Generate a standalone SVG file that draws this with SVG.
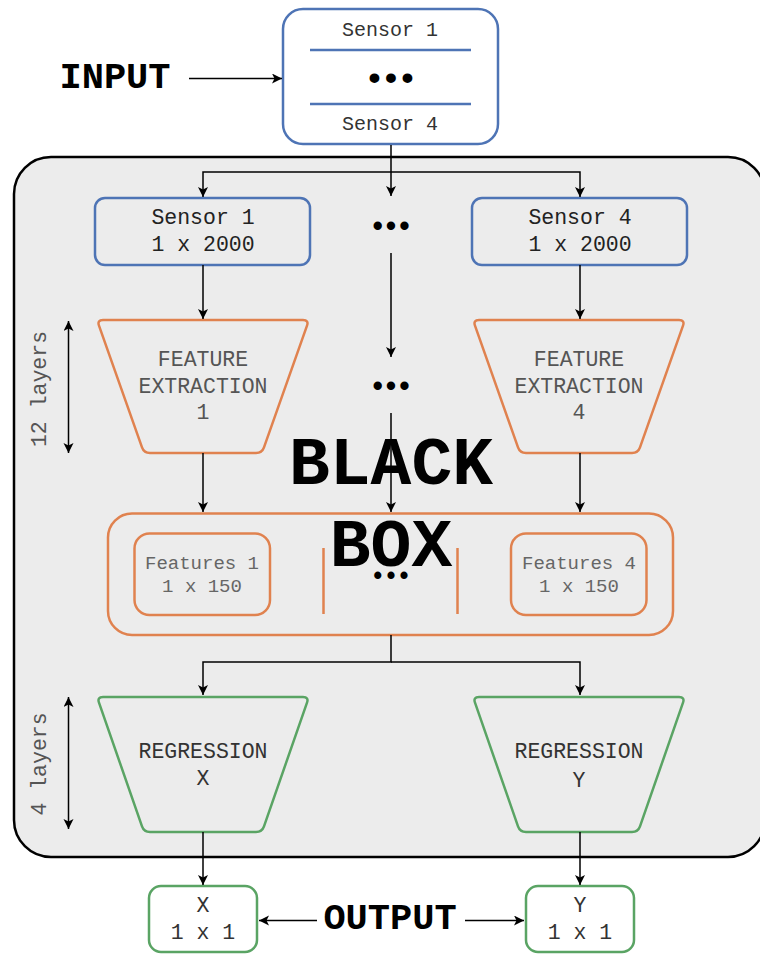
<svg xmlns="http://www.w3.org/2000/svg" width="760" height="954" viewBox="0 0 760 954">
<style>
text{font-family:"Liberation Mono","Courier New",monospace;text-anchor:middle}
.t{font-size:21.5px}
.big{font-size:37px;font-weight:bold;fill:#000}
.bb{font-size:68px;font-weight:bold;fill:#000}
.dots{font-weight:bold;fill:#000}
.blue{fill:#fff;stroke:#4e74b5;stroke-width:2.5}
.blueT{fill:none;stroke:#4e74b5;stroke-width:2.5}
.or{fill:none;stroke:#e0824f;stroke-width:2.5}
.gr{fill:none;stroke:#5aa464;stroke-width:2.5}
.grw{fill:#fff;stroke:#5aa464;stroke-width:2.5}
.c{fill:none;stroke:#000;stroke-width:1.5}
.ca{fill:none;stroke:#000;stroke-width:1.5;marker-end:url(#ah)}
.cd{fill:none;stroke:#000;stroke-width:1.5;marker-end:url(#ah);marker-start:url(#ah)}
</style>
<defs>
<marker id="ah" markerUnits="userSpaceOnUse" markerWidth="12" markerHeight="12" viewBox="0 0 12 12" refX="10" refY="5" orient="auto-start-reverse">
<path d="M0,0 L10,5 L0,10 L2.5,5 Z" fill="#000"/>
</marker>
</defs>

<g id="blackbox">
<rect x="14" y="157" width="751" height="700" rx="37" fill="#ececec" stroke="#000" stroke-width="2.5"/>
</g>

<g id="input-label"><text class="big" x="115" y="88">INPUT</text></g>

<g id="input">
<rect class="blue" x="283" y="9" width="215" height="135" rx="20"/>
<line x1="310" y1="50" x2="471" y2="50" class="blueT"/>
<line x1="310" y1="104" x2="471" y2="104" class="blueT"/>
<text class="t" x="390" y="36" style="font-size:20px;fill:#333">Sensor 1</text>
<text class="dots" x="389" y="89" style="font-size:34px;letter-spacing:-3.9px">•••</text>
<text class="t" x="390" y="130" style="font-size:20px;fill:#333">Sensor 4</text>
</g>

<g id="sensor1">
<rect class="blueT" x="95" y="198" width="215" height="67" rx="10"/>
<text class="t" x="203" y="224" fill="#222">Sensor 1</text>
<text class="t" x="203" y="251" fill="#222">1 x 2000</text>
</g>
<g id="sensor4">
<rect class="blueT" x="472" y="198" width="215" height="67" rx="10"/>
<text class="t" x="580" y="224" fill="#222">Sensor 4</text>
<text class="t" x="580" y="251" fill="#222">1 x 2000</text>
</g>
<g id="dots-sensors"><text class="dots" x="389" y="235.6" style="font-size:29px;letter-spacing:-4px">•••</text></g>

<g id="fe1">
<path class="or" transform="translate(97,320)" d="M6,0 L206,0 Q212,0 210.01,5.66 L166.99,127.34 Q165,133 159,133 L53,133 Q47,133 45.01,127.34 L1.99,5.66 Q0,0 6,0 Z"/>
<text class="t" x="203" y="366" fill="#555">FEATURE</text>
<text class="t" x="203" y="392.5" fill="#555">EXTRACTION</text>
<text class="t" x="203" y="419" fill="#555">1</text>
</g>
<g id="fe4">
<path class="or" transform="translate(473,320)" d="M6,0 L206,0 Q212,0 210.01,5.66 L166.99,127.34 Q165,133 159,133 L53,133 Q47,133 45.01,127.34 L1.99,5.66 Q0,0 6,0 Z"/>
<text class="t" x="579" y="366" fill="#555">FEATURE</text>
<text class="t" x="579" y="392.5" fill="#555">EXTRACTION</text>
<text class="t" x="579" y="419" fill="#555">4</text>
</g>
<g id="dots-fe"><text class="dots" x="389" y="396.3" style="font-size:29px;letter-spacing:-4px">•••</text></g>

<g id="layers12">
<text class="t" transform="translate(46,389) rotate(-90)" fill="#555">12 layers</text>
</g>
<g id="layers4">
<text class="t" transform="translate(46,764) rotate(-90)" fill="#555">4 layers</text>
</g>

<g id="features">
<rect class="or" x="108" y="513.5" width="565" height="121.5" rx="24"/>
<line class="or" x1="323.5" y1="548" x2="323.5" y2="614"/>
<line class="or" x1="457.5" y1="548" x2="457.5" y2="614"/>
<text class="dots" x="390" y="584" style="font-size:25px;letter-spacing:-1.8px">•••</text>
</g>
<g id="features1">
<rect class="or" x="134.5" y="533.5" width="135.5" height="81.5" rx="15"/>
<text class="t" x="202" y="569" style="font-size:19px" fill="#666">Features 1</text>
<text class="t" x="202" y="592" style="font-size:19px" fill="#666">1 x 150</text>
</g>
<g id="features4">
<rect class="or" x="511" y="533.5" width="135.5" height="81.5" rx="15"/>
<text class="t" x="579" y="569" style="font-size:19px" fill="#666">Features 4</text>
<text class="t" x="579" y="592" style="font-size:19px" fill="#666">1 x 150</text>
</g>

<g id="blackbox-label">
<text class="bb" x="391" y="484">BLACK</text>
<text class="bb" x="391" y="565.5">BOX</text>
</g>

<g id="regx">
<path class="gr" transform="translate(97,697)" d="M6,0 L206,0 Q212,0 210.01,5.66 L166.99,129.34 Q165,135 159,135 L53,135 Q47,135 45.01,129.34 L1.99,5.66 Q0,0 6,0 Z"/>
<text class="t" x="203" y="757.5" fill="#333">REGRESSION</text>
<text class="t" x="203" y="785" fill="#333">X</text>
</g>
<g id="regy">
<path class="gr" transform="translate(473,697)" d="M6,0 L206,0 Q212,0 210.01,5.66 L166.99,129.34 Q165,135 159,135 L53,135 Q47,135 45.01,129.34 L1.99,5.66 Q0,0 6,0 Z"/>
<text class="t" x="579" y="757.5" fill="#333">REGRESSION</text>
<text class="t" x="579" y="787" fill="#333">Y</text>
</g>

<g id="outx">
<rect class="grw" x="149" y="886" width="108" height="66" rx="12"/>
<text class="t" x="203" y="912" fill="#333">X</text>
<text class="t" x="203" y="939" fill="#333">1 x 1</text>
</g>
<g id="outy">
<rect class="grw" x="526" y="886" width="108" height="66" rx="12"/>
<text class="t" x="580" y="912" fill="#333">Y</text>
<text class="t" x="580" y="939" fill="#333">1 x 1</text>
</g>
<g id="output-label"><text class="big" x="390" y="929">OUTPUT</text></g>

<g id="connectors">
<path class="ca" d="M189,78.5 H282"/>
<path class="ca" d="M391,145 V196"/>
<path class="ca" d="M391,172 H203 V197"/>
<path class="ca" d="M391,172 H580 V197"/>
<path class="ca" d="M203,265 V319"/>
<path class="ca" d="M580,265 V319"/>
<path class="ca" d="M391,253 V357"/>
<path class="ca" d="M391,413 V512"/>
<path class="ca" d="M203,453 V512"/>
<path class="ca" d="M580,453 V512"/>
<path class="ca" d="M391,635 V662 H203 V695"/>
<path class="ca" d="M391,662 H580 V695"/>
<path class="ca" d="M203,832 V885"/>
<path class="ca" d="M580,832 V885"/>
<path class="ca" d="M317,920.5 H259"/>
<path class="ca" d="M465,920.5 H524"/>
<path class="cd" d="M68.5,321 V453"/>
<path class="cd" d="M68.5,697 V829"/>
</g>
</svg>
